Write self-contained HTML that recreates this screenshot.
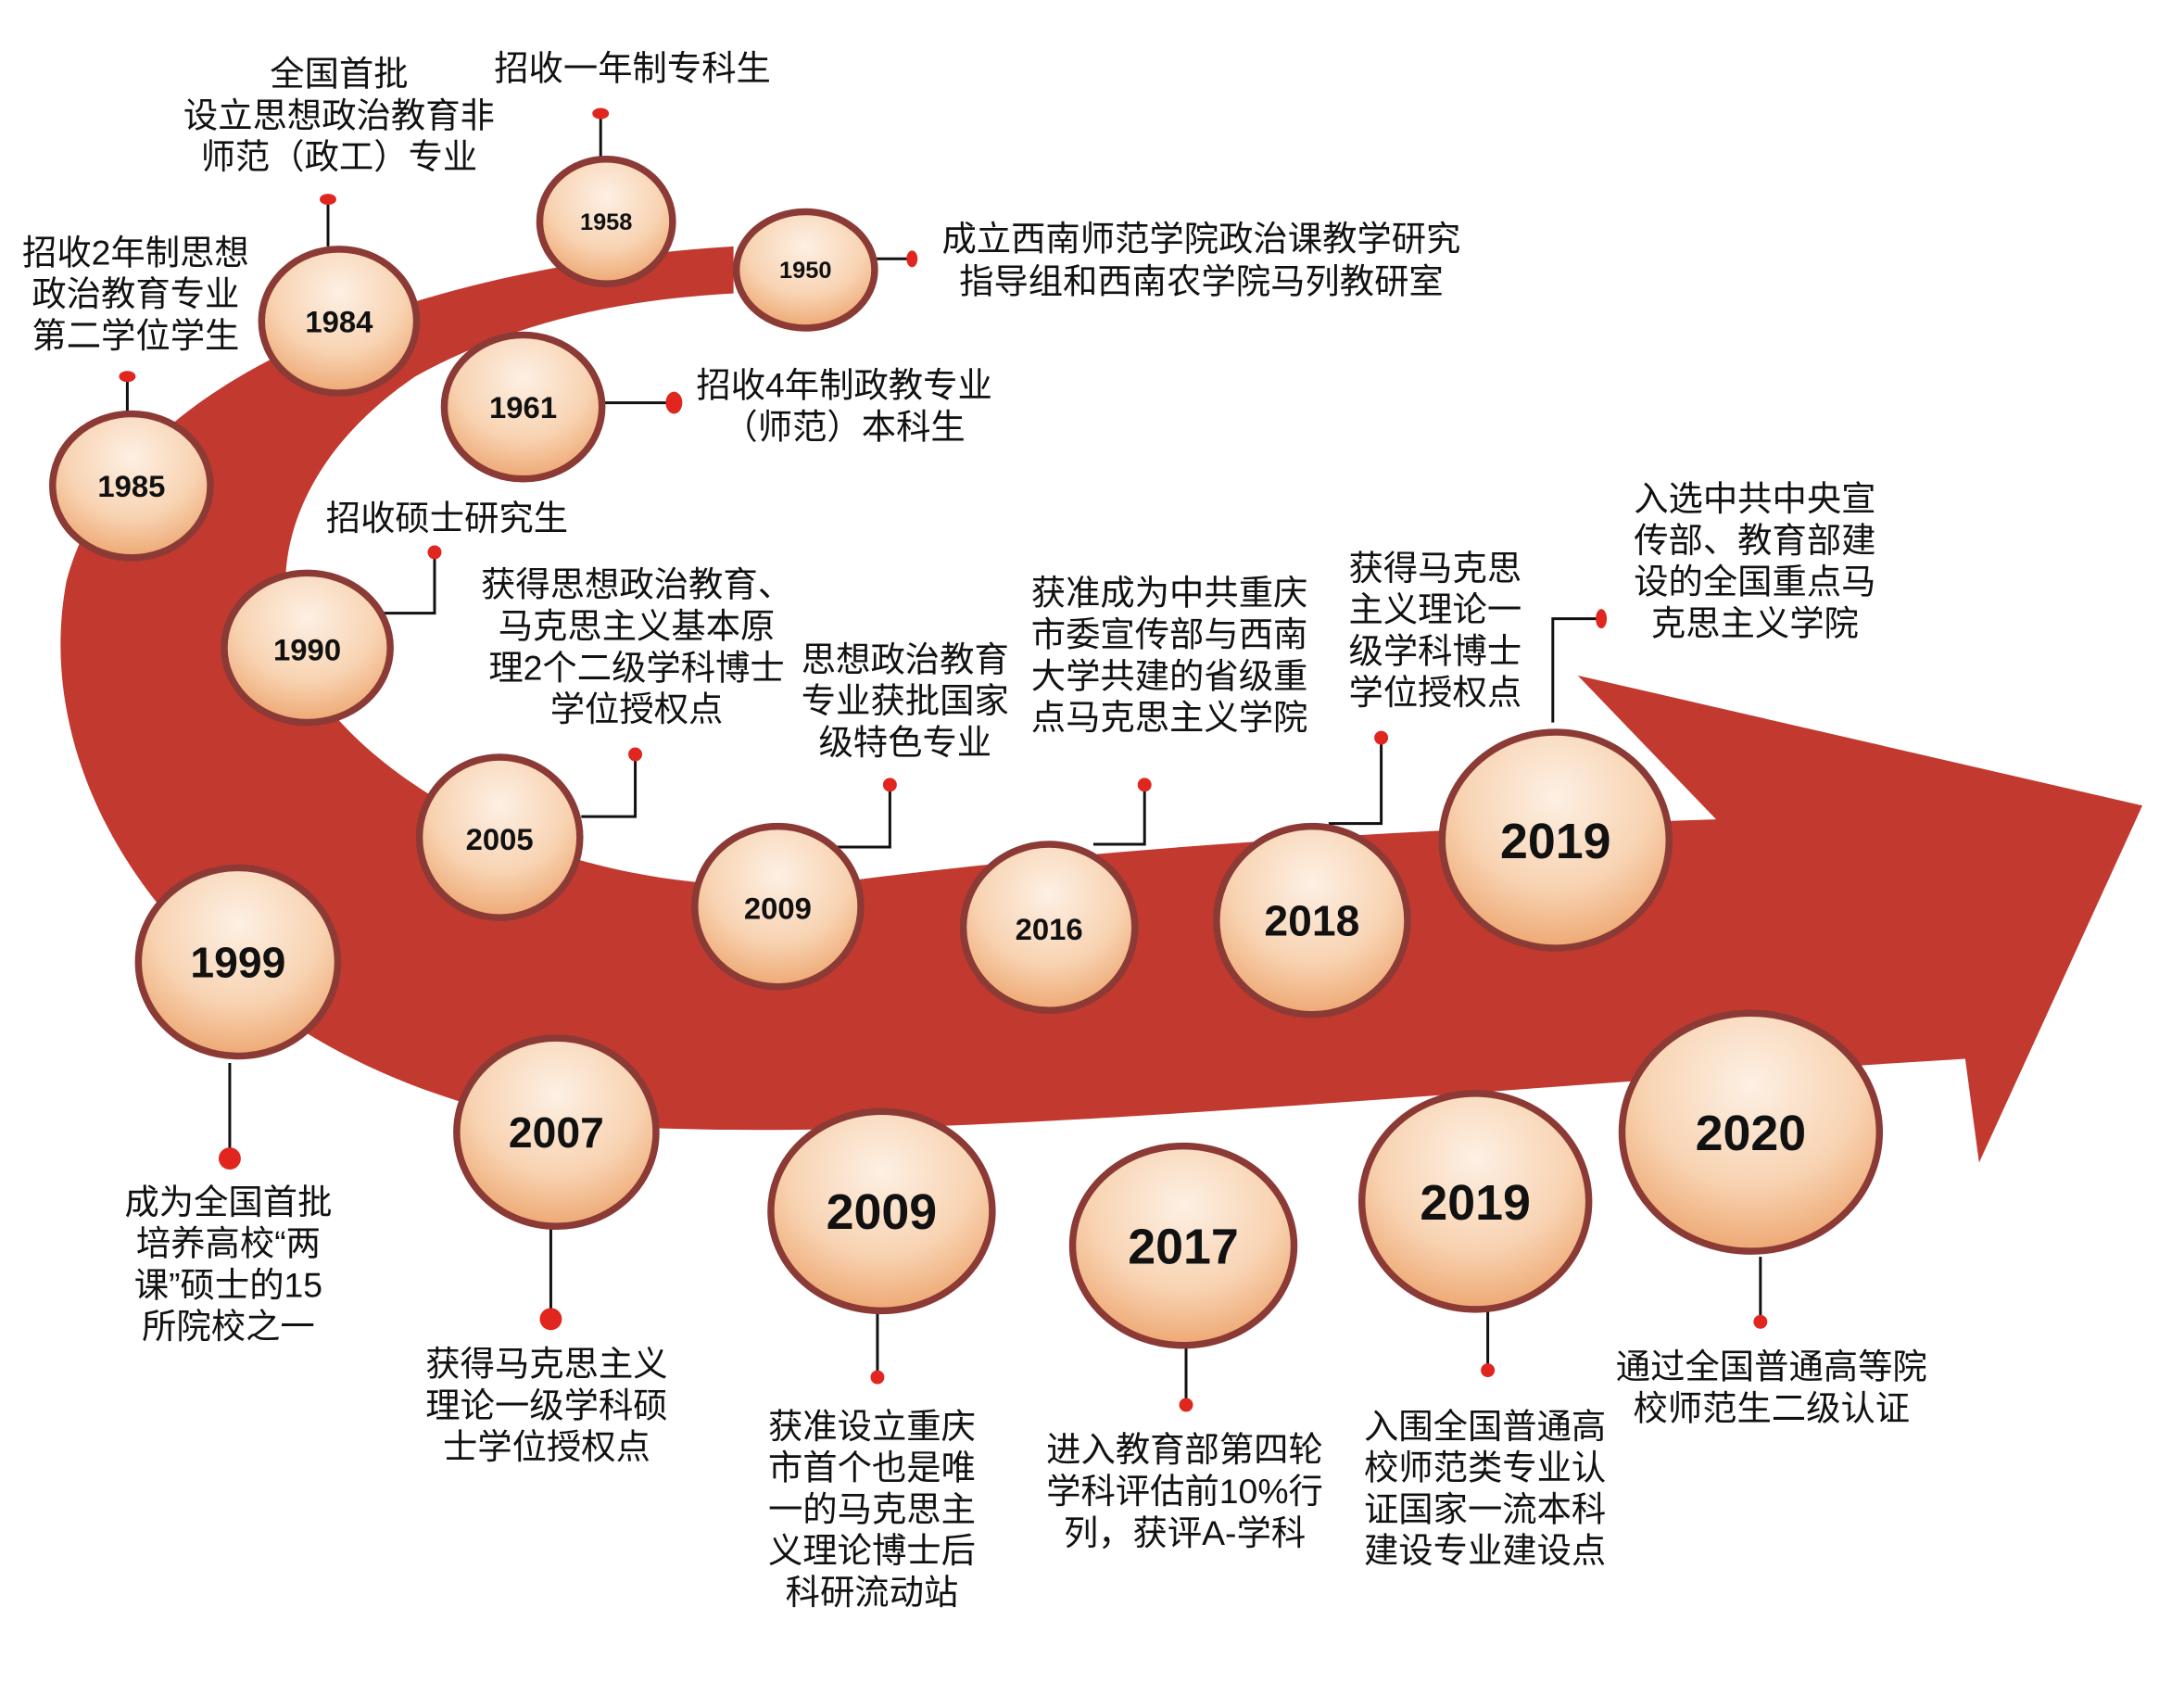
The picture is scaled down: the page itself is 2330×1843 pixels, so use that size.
<!DOCTYPE html>
<html><head><meta charset="utf-8"><style>
html,body{margin:0;padding:0;background:#fff;}
svg{display:block;}
text{font-family:"Liberation Sans","Noto Sans CJK SC",sans-serif;}
.l{font-size:25px;fill:#111;text-anchor:middle;}
.y{font-weight:bold;fill:#111;text-anchor:middle;}
</style></head><body>
<svg width="2330" height="1843" viewBox="0 0 1560 1234" preserveAspectRatio="none" xmlns="http://www.w3.org/2000/svg">
<defs>
<radialGradient id="g" cx="50%" cy="30%" r="70%">
<stop offset="0" stop-color="#fdf0e4"/><stop offset="0.6" stop-color="#f8d3b2"/><stop offset="1" stop-color="#eea873"/>
</radialGradient>
</defs>
<path fill="#c2392f" d="M530 178 C330 190 90 260 48 420 C18 580 150 760 380 808 C600 835 1000 790 1420 765 L1430 840 L1548 582 L1140 488 L1240 592 C1000 600 800 612 600 638 C430 652 300 585 240 515 C180 440 200 340 300 272 C380 228 460 216 530 212 Z"/>
<g stroke="#111" stroke-width="2" fill="none">
<path d="M237 144V178"/><path d="M434 82V115"/><path d="M632 187H659"/><path d="M92 272V300"/>
<path d="M435 291H487"/><path d="M314 399V443H277"/><path d="M459 545V590H420"/><path d="M643 567V612H605"/>
<path d="M827 567V610H790"/><path d="M998 533V595H960"/><path d="M1157 447H1122V522"/>
<path d="M166 768V836"/><path d="M398 886V953"/><path d="M634 948V995"/><path d="M857 965V1015"/><path d="M1075 945V990"/><path d="M1272 908V955"/>
</g>
<g fill="#e0261e">
<ellipse cx="237" cy="144" rx="6" ry="4"/><ellipse cx="434" cy="82" rx="6" ry="4"/><ellipse cx="659" cy="187" rx="4" ry="6"/><ellipse cx="92" cy="272" rx="6" ry="4"/>
<ellipse cx="487" cy="291" rx="6" ry="8"/><circle cx="314" cy="399" r="5"/><circle cx="459" cy="545" r="5"/><circle cx="643" cy="567" r="5"/>
<circle cx="827" cy="567" r="5"/><circle cx="998" cy="533" r="5"/><ellipse cx="1157" cy="447" rx="4" ry="7"/>
<circle cx="166" cy="837" r="8"/><circle cx="398" cy="953" r="8"/><circle cx="634" cy="995" r="5"/><circle cx="857" cy="1015" r="5"/><circle cx="1075" cy="990" r="5"/><circle cx="1272" cy="955" r="5"/>
</g>
<g stroke="#8b3a35" stroke-width="5" fill="url(#g)">
<ellipse cx="438" cy="160" rx="48" ry="45"/><ellipse cx="582" cy="195" rx="50" ry="42"/><ellipse cx="245" cy="232" rx="56" ry="52"/>
<ellipse cx="378" cy="294" rx="57" ry="52"/><ellipse cx="95" cy="351" rx="57" ry="52"/><ellipse cx="222" cy="468" rx="60" ry="54"/>
<ellipse cx="361" cy="605" rx="58" ry="58"/><ellipse cx="562" cy="655" rx="60" ry="58"/><ellipse cx="758" cy="670" rx="62" ry="60"/>
<ellipse cx="948" cy="665" rx="69" ry="68"/><ellipse cx="1124" cy="607" rx="82" ry="78"/><ellipse cx="172" cy="695" rx="72" ry="68"/>
<ellipse cx="402" cy="818" rx="72" ry="68"/><ellipse cx="637" cy="875" rx="80" ry="72"/><ellipse cx="855" cy="900" rx="80" ry="72"/>
<ellipse cx="1066" cy="868" rx="82" ry="78"/><ellipse cx="1265" cy="818" rx="93" ry="86"/>
</g>
<g class="y" font-size="17"><text x="438" y="166">1958</text><text x="582" y="201">1950</text></g>
<g class="y" font-size="22"><text x="245" y="240">1984</text><text x="378" y="302">1961</text><text x="95" y="359">1985</text><text x="222" y="477">1990</text><text x="361" y="614">2005</text><text x="562" y="664">2009</text><text x="758" y="679">2016</text></g>
<g class="y" font-size="31"><text x="948" y="676">2018</text><text x="172" y="706">1999</text><text x="402" y="829">2007</text></g>
<g class="y" font-size="36"><text x="1124" y="620">2019</text><text x="637" y="888">2009</text><text x="855" y="913">2017</text><text x="1066" y="881">2019</text><text x="1265" y="831">2020</text></g>
<g class="l">
<text x="245" y="62">全国首批</text><text x="245" y="92">设立思想政治教育非</text><text x="245" y="122">师范（政工）专业</text>
<text x="457" y="58">招收一年制专科生</text>
<text x="868" y="181">成立西南师范学院政治课教学研究</text><text x="868" y="212">指导组和西南农学院马列教研室</text>
<text x="98" y="191">招收2年制思想</text><text x="98" y="221">政治教育专业</text><text x="98" y="251">第二学位学生</text>
<text x="610" y="287">招收4年制政教专业</text><text x="610" y="317">（师范）本科生</text>
<text x="323" y="383">招收硕士研究生</text>
<text x="460" y="431">获得思想政治教育、</text><text x="460" y="461">马克思主义基本原</text><text x="460" y="491">理2个二级学科博士</text><text x="460" y="521">学位授权点</text>
<text x="654" y="485">思想政治教育</text><text x="654" y="515">专业获批国家</text><text x="654" y="545">级特色专业</text>
<text x="845" y="437">获准成为中共重庆</text><text x="845" y="467">市委宣传部与西南</text><text x="845" y="497">大学共建的省级重</text><text x="845" y="527">点马克思主义学院</text>
<text x="1037" y="419">获得马克思</text><text x="1037" y="449">主义理论一</text><text x="1037" y="479">级学科博士</text><text x="1037" y="509">学位授权点</text>
<text x="1268" y="369">入选中共中央宣</text><text x="1268" y="399">传部、教育部建</text><text x="1268" y="429">设的全国重点马</text><text x="1268" y="459">克思主义学院</text>
<text x="165" y="877">成为全国首批</text><text x="165" y="907">培养高校“两</text><text x="165" y="937">课”硕士的15</text><text x="165" y="967">所院校之一</text>
<text x="395" y="994">获得马克思主义</text><text x="395" y="1024">理论一级学科硕</text><text x="395" y="1054">士学位授权点</text>
<text x="630" y="1039">获准设立重庆</text><text x="630" y="1069">市首个也是唯</text><text x="630" y="1099">一的马克思主</text><text x="630" y="1129">义理论博士后</text><text x="630" y="1159">科研流动站</text>
<text x="856" y="1056">进入教育部第四轮</text><text x="856" y="1086">学科评估前10%行</text><text x="856" y="1116">列，获评A-学科</text>
<text x="1073" y="1039">入围全国普通高</text><text x="1073" y="1069">校师范类专业认</text><text x="1073" y="1099">证国家一流本科</text><text x="1073" y="1129">建设专业建设点</text>
<text x="1280" y="996">通过全国普通高等院</text><text x="1280" y="1026">校师范生二级认证</text>
</g>
</svg>
</body></html>
